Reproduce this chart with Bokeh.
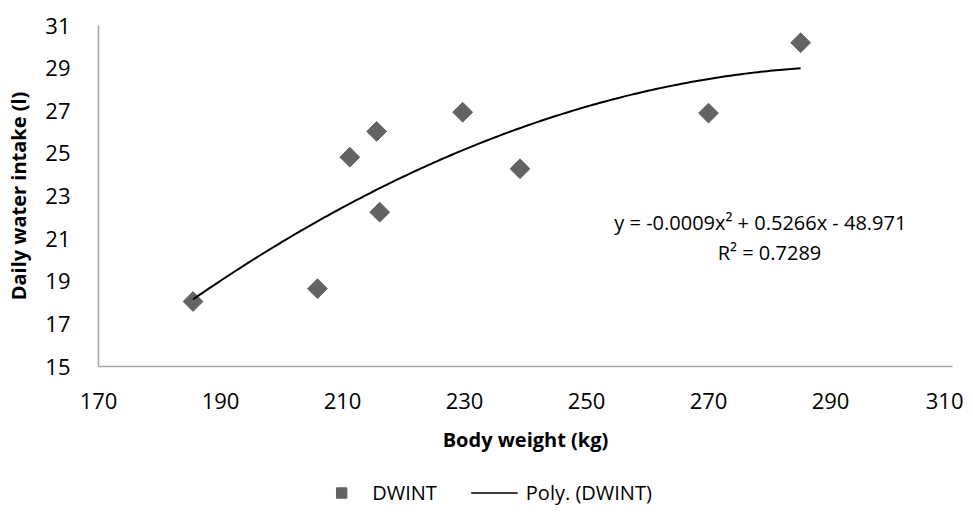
import numpy as np
from bokeh.plotting import figure
from bokeh.layouts import column
from bokeh.models import Range1d, FixedTicker, Legend, LegendItem, Label, ColumnDataSource
from bokeh.embed import file_html
from bokeh.resources import INLINE

# Data
body_weight = [185.5, 205.9, 211.2, 215.6, 216.1, 229.7, 239.1, 270.0, 285.1]
water_intake = [18.05, 18.65, 24.82, 26.03, 22.24, 26.93, 24.28, 26.89, 30.19]
x_ticks = [170, 190, 210, 230, 250, 270, 290, 310]
y_ticks = [15, 17, 19, 21, 23, 25, 27, 29, 31]
equation_text = "y = -0.0009x\u00b2 + 0.5266x - 48.971"
r2_text = "R\u00b2 = 0.7289"
series_label = "DWINT"
trend_label = "Poly. (DWINT)"

FONT = "Open Sans"
MARKER_COLOR = "#636363"

p = figure(frame_width=854, frame_height=341, output_backend="svg", toolbar_location=None,
           x_range=Range1d(x_ticks[0], x_ticks[-1]), y_range=Range1d(y_ticks[0], y_ticks[-1]),
           min_border_left=98, min_border_top=25, min_border_right=11, min_border_bottom=100)
p.outline_line_color = None
p.grid.grid_line_color = None
p.background_fill_color = "white"

for ax in (p.xaxis[0], p.yaxis[0]):
    ax.axis_line_color = "#a6a6a6"
    ax.axis_line_width = 1.5
    ax.major_tick_line_color = None
    ax.minor_tick_line_color = None
    ax.major_label_text_font = FONT
    ax.major_label_text_font_size = "22px"
    ax.major_label_text_color = "#000000"
    ax.axis_label_text_font = FONT
    ax.axis_label_text_font_style = "bold"
    ax.axis_label_text_font_size = "20px"
    ax.axis_label_text_color = "#000000"

p.xaxis.ticker = FixedTicker(ticks=x_ticks)
p.yaxis.ticker = FixedTicker(ticks=y_ticks)
p.xaxis.axis_label = "Body weight (kg)"
p.yaxis.axis_label = "Daily water intake (l)"
p.xaxis.major_label_standoff = 20
p.yaxis.major_label_standoff = 22
p.xaxis.axis_label_standoff = 14
p.yaxis.axis_label_standoff = 10

src = ColumnDataSource(dict(x=body_weight, y=water_intake))
p.scatter("x", "y", source=src, marker="square", size=14, angle=np.pi / 4,
          fill_color=MARKER_COLOR, line_color=MARKER_COLOR)

coef = np.polyfit(body_weight, water_intake, 2)
xs = np.linspace(min(body_weight), max(body_weight), 200)
ys = np.polyval(coef, xs)
p.line(xs, ys, line_color="#000000", line_width=2)

p.add_layout(Label(x=278.5, y=21.75, text=equation_text, text_align="center", text_baseline="middle",
                   text_font=FONT, text_font_size="20px", text_color="#000000"))
p.add_layout(Label(x=280.0, y=20.35, text=r2_text, text_align="center", text_baseline="middle",
                   text_font=FONT, text_font_size="20px", text_color="#000000"))

# Legend strip below the chart (its own renderers lie outside its visible range)
lf = figure(width=963, height=52, output_backend="svg", toolbar_location=None,
            x_axis_type=None, y_axis_type=None, x_range=Range1d(0, 1), y_range=Range1d(0, 1),
            min_border_left=0, min_border_right=92, min_border_top=0, min_border_bottom=0)
lf.outline_line_color = None
lf.grid.grid_line_color = None
leg_pts = lf.scatter(body_weight, water_intake, marker="square", size=16, angle=np.pi / 4,
                     fill_color=MARKER_COLOR, line_color=MARKER_COLOR)
leg_line = lf.line(xs, ys, line_color="#000000", line_width=1.5)
legend = Legend(items=[LegendItem(label=series_label, renderers=[leg_pts]),
                       LegendItem(label=trend_label, renderers=[leg_line])],
                orientation="horizontal", location="center",
                label_text_font=FONT, label_text_font_size="20px", label_text_color="#000000",
                border_line_color=None, background_fill_alpha=0,
                glyph_width=47, glyph_height=26, spacing=34, label_standoff=8, margin=0, padding=0)
lf.add_layout(legend, "center")

layout = column(p, lf, spacing=0)
open("out.html", "w").write(file_html(layout, INLINE))
